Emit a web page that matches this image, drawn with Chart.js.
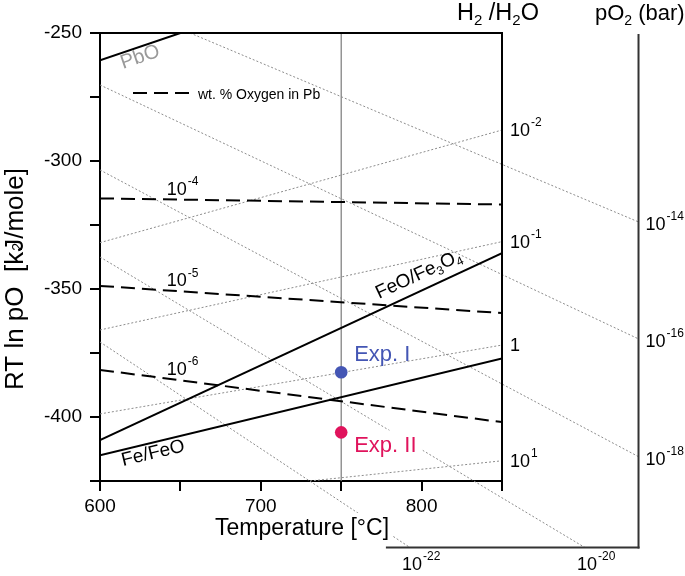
<!DOCTYPE html>
<html><head><meta charset="utf-8">
<script src="https://cdn.jsdelivr.net/npm/chart.js@4/dist/chart.umd.min.js"></script>
<style>html,body{margin:0;padding:0;background:#fff;}</style>
</head><body>
<canvas id="c" width="685" height="576"></canvas>
<script>
const FONT = "'Liberation Sans', Arial, Helvetica, sans-serif";
// axes
const tempMin = 600, tempMax = 850;
const rtMin = -425, rtMax = -250;
const xTickLabels = [600, 700, 800];
const yTickLabels = [-250, -300, -350, -400];

// phase boundaries (two end points each: temperature, RT ln pO)
const pboT = [600, 650];       const pboY = [-260.7, -250];
const feoFe3o4T = [600, 850];  const feoFe3o4Y = [-409, -336];
const feFeoT = [600, 850];     const feFeoY = [-415, -377.1];

// wt.% oxygen in Pb
const oxyExp = ['-4', '-5', '-6'];
const oxyStartY = [-314.6, -348.8, -381.6];
const oxyEndY = [-317, -359.4, -402];

// H2/H2O iso-lines
const h2Exp = ['-2', '-1', '', '1'];
const h2Base = ['10', '10', '1', '10'];
const h2StartT = [600, 600, 600, 730.6];
const h2StartY = [-331.9, -366.0, -398.8, -425];
const h2EndY = [-287.9, -331.5, -371.9, -417.1];

// pO2 iso-bars (bar)
const pO2Exp = ['-14', '-16', '-18', '-20', '-22'];
const pO2StartT = [656, 600, 600, 600, 600];
const pO2StartY = [-250, -270.3, -303.5, -337.5, -370.7];
const pO2EndT = [934.9, 934.9, 934.9, 901.6, 792.8];
const pO2EndY = [-323.8, -369.5, -415.5, -451, -451];

// nomogram axes
const pO2AxisT = 934.9, pO2AxisTopY = -250.4;
const nomoBottomY = -451, nomoBottomStartT = 777.8;

// experiments
const expNames = ['Exp. I', 'Exp. II'];
const expT = [750, 750];
const expY = [-382.5, -406];
const expColors = ['#4456b4', '#e0135c'];
const expLineT = 750;

const pts = (t, y) => t.map((v, i) => ({x: v, y: y[i]}));
const DOT = '#8c8c8c';
const datasets = [];
datasets.push({data: pts(expT, expY), showLine: false, pointRadius: 6.3, pointHoverRadius: 6.3,
  pointBackgroundColor: expColors, pointBorderWidth: 0, order: 0});
[[pboT, pboY], [feoFe3o4T, feoFe3o4Y], [feFeoT, feFeoY]].forEach(([t, y]) =>
  datasets.push({data: pts(t, y), showLine: true, borderColor: '#000', borderWidth: 2, pointRadius: 0, order: 1}));
oxyExp.forEach((e, i) => datasets.push({data: pts([tempMin, tempMax], [oxyStartY[i], oxyEndY[i]]), showLine: true,
  borderColor: '#000', borderWidth: 2, borderDash: [14, 7], pointRadius: 0, order: 2}));
h2Exp.forEach((e, i) => datasets.push({data: pts([h2StartT[i], tempMax], [h2StartY[i], h2EndY[i]]), showLine: true,
  borderColor: DOT, borderWidth: 1, borderDash: [2, 2], pointRadius: 0, order: 3}));
pO2Exp.forEach((e, i) => datasets.push({data: pts([pO2StartT[i], pO2EndT[i]], [pO2StartY[i], pO2EndY[i]]), showLine: true,
  borderColor: DOT, borderWidth: 1, borderDash: [2, 2], pointRadius: 0, clip: false, order: 3}));
datasets.push({data: pts([expLineT, expLineT], [rtMax, rtMin]), showLine: true, borderColor: '#7a7a7a',
  borderWidth: 1.2, pointRadius: 0, order: 4});

function power(ctx, x, y, base, exp, size, color) {
  ctx.fillStyle = color || '#000';
  ctx.textAlign = 'left'; ctx.textBaseline = 'alphabetic';
  ctx.font = size + 'px ' + FONT;
  const w1 = ctx.measureText(base).width;
  ctx.fillText(base, x, y);
  if (exp) {
    ctx.font = Math.round(size * 0.67) + 'px ' + FONT;
    ctx.fillText(exp, x + w1 + 1, y - size * 0.55);
  }
}
function seg(ctx, x1, y1, x2, y2) { ctx.beginPath(); ctx.moveTo(x1, y1); ctx.lineTo(x2, y2); ctx.stroke(); }
function pieces(ctx, x, y, list) {
  let cx = x;
  list.forEach(([t, s, dy]) => {
    ctx.font = s + 'px ' + FONT;
    ctx.fillText(t, cx, y + (dy || 0));
    cx += ctx.measureText(t).width;
  });
  return cx;
}

const extras = {
  id: 'extras',
  afterDatasetsDraw(chart) {
    const {ctx, chartArea: a, scales: {x: xs, y: ys}} = chart;
    const X = v => xs.getPixelForValue(v), Y = v => ys.getPixelForValue(v);
    ctx.save();
    ctx.lineCap = 'butt';
    // frame top and right axis
    ctx.strokeStyle = '#000'; ctx.lineWidth = 2;
    seg(ctx, a.left - 1, a.top, a.right + 1, a.top);
    seg(ctx, a.right, a.top, a.right, a.bottom + 7);
    // nomogram axes
    ctx.strokeStyle = '#333';
    seg(ctx, X(pO2AxisT), Y(pO2AxisTopY), X(pO2AxisT), Y(nomoBottomY) + 1);
    seg(ctx, X(nomoBottomStartT), Y(nomoBottomY), X(pO2AxisT) + 1, Y(nomoBottomY));

    // H2/H2O labels
    h2Exp.forEach((e, i) => power(ctx, a.right + 8, Y(h2EndY[i]) + 6, h2Base[i], e, 18));
    // pO2 labels
    pO2Exp.forEach((e, i) => {
      if (pO2EndT[i] >= pO2AxisT) power(ctx, X(pO2AxisT) + 7, Y(pO2EndY[i]) + 8, '10', e, 18);
      else power(ctx, X(pO2EndT[i]) - 8, Y(nomoBottomY) + 22, '10', e, 18);
    });
    // wt% labels
    oxyExp.forEach((e, i) => {
      const t = 641.5;
      const yv = oxyStartY[i] + (oxyEndY[i] - oxyStartY[i]) * (t - tempMin) / (tempMax - tempMin);
      power(ctx, X(t), Y(yv) - 4, '10', e, 18);
    });
    // legend
    ctx.strokeStyle = '#000'; ctx.lineWidth = 2; ctx.setLineDash([14, 7]);
    seg(ctx, 133, 93, 190, 93);
    ctx.setLineDash([]);
    ctx.fillStyle = '#000'; ctx.font = '14px ' + FONT; ctx.textAlign = 'left';
    ctx.fillText('wt. % Oxygen in Pb', 198, 99);

    // experiment labels
    const ex0 = X(expT[0]) + 13;
    ctx.font = '22px ' + FONT;
    ctx.fillStyle = expColors[0];
    ctx.fillText(expNames[0], ex0, Y(expY[0]) - 11);
    const w2 = ctx.measureText(expNames[1]).width;
    ctx.fillStyle = '#fff';
    ctx.fillRect(ex0 - 3, Y(expY[1]) - 2, w2 + 9, 27);
    ctx.fillStyle = expColors[1];
    ctx.fillText(expNames[1], ex0, Y(expY[1]) + 19.5);

    // curve labels
    ctx.save(); ctx.translate(123, 69); ctx.rotate(-19 * Math.PI / 180);
    ctx.fillStyle = '#999'; ctx.font = '20px ' + FONT; ctx.fillText('PbO', 0, 0); ctx.restore();

    ctx.save(); ctx.translate(379, 299); ctx.rotate(-25 * Math.PI / 180);
    ctx.fillStyle = '#000';
    pieces(ctx, 0, 0, [['FeO/Fe', 19], ['3', 12, 4], ['O', 19], ['4', 12, 4]]);
    ctx.restore();

    ctx.save(); ctx.translate(123, 466); ctx.rotate(-13.5 * Math.PI / 180);
    ctx.fillStyle = '#000'; ctx.font = '19px ' + FONT; ctx.fillText('Fe/FeO', 0, 0); ctx.restore();

    // x title with white backing
    ctx.font = '23px ' + FONT;
    const xt = 'Temperature [°C]';
    const xtw = ctx.measureText(xt).width;
    const xc = (a.left + a.right) / 2 + 1;
    ctx.fillStyle = '#fff';
    ctx.fillRect(xc - xtw / 2 - 3, 513, xtw + 6, 27);
    ctx.fillStyle = '#000';
    ctx.textAlign = 'center';
    ctx.fillText(xt, xc, 535);
    ctx.textAlign = 'left';

    // y title
    ctx.save(); ctx.translate(23, 390); ctx.rotate(-Math.PI / 2);
    ctx.fillStyle = '#000';
    let cx = pieces(ctx, 0, 0, [['RT ln pO  [k', 26]]);
    ctx.font = '14px ' + FONT; ctx.fillText('2', cx + 1, -1);
    pieces(ctx, cx, 0, [['J/mole]', 26]]);
    ctx.restore();

    // top titles
    ctx.fillStyle = '#000';
    pieces(ctx, 457, 20, [['H', 23.5], ['2', 15, 5], [' /H', 23.5], ['2', 15, 5], ['O', 23.5]]);
    pieces(ctx, 595, 20, [['pO', 22], ['2', 14, 5], [' (bar)', 22]]);
    ctx.restore();
  }
};

new Chart(document.getElementById('c'), {
  type: 'scatter',
  data: {datasets},
  plugins: [extras],
  options: {
    responsive: false, animation: false, devicePixelRatio: 1,
    layout: {padding: {left: 0, top: 33, right: 183, bottom: 0}},
    plugins: {legend: {display: false}, tooltip: {enabled: false}},
    scales: {
      x: {type: 'linear', min: tempMin, max: tempMax,
        afterFit: s => { s.height = 95; },
        border: {color: '#000', width: 2},
        grid: {drawOnChartArea: false, color: '#000', lineWidth: 2, tickLength: 10},
        ticks: {stepSize: 50, autoSkip: false, maxRotation: 0, padding: 4, color: '#000',
          font: {family: FONT, size: 19},
          callback: v => xTickLabels.includes(v) ? String(v) : ''}},
      y: {type: 'linear', min: rtMin, max: rtMax,
        afterFit: s => { s.width = 100; },
        border: {color: '#000', width: 2},
        grid: {drawOnChartArea: false, color: '#000', lineWidth: 2, tickLength: 10},
        ticks: {stepSize: 25, autoSkip: false, padding: 8, color: '#000',
          font: {family: FONT, size: 19},
          callback: v => yTickLabels.includes(v) ? String(v) : ''}}
    }
  }
});
</script>
</body></html>
